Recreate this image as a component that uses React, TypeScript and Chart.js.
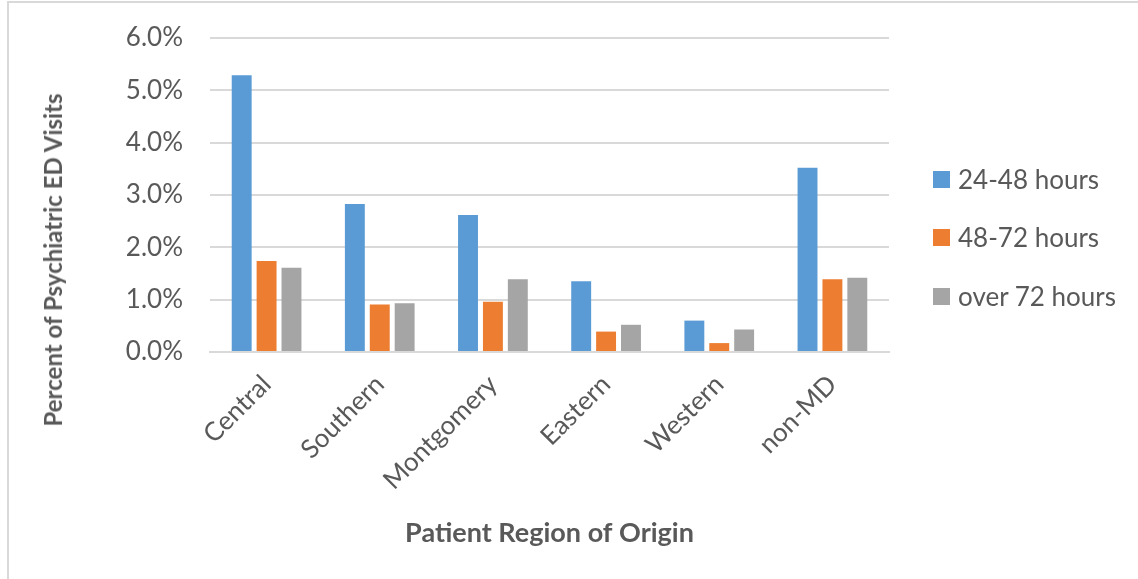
import React, { useEffect, useRef } from "react";
import { Chart, registerables } from "chart.js";

Chart.register(...registerables);

const categories = ["Central", "Southern", "Montgomery", "Eastern", "Western", "non-MD"];
const seriesNames = ["24-48 hours", "48-72 hours", "over 72 hours"];
const hours24to48 = [5.29, 2.83, 2.62, 1.35, 0.6, 3.52];
const hours48to72 = [1.74, 0.91, 0.96, 0.39, 0.17, 1.39];
const over72 = [1.61, 0.93, 1.39, 0.52, 0.43, 1.42];
const colors = ["#5b9bd5", "#ed7d31", "#a5a5a5"];
const yTitle = "Percent of Psychiatric ED Visits";
const xTitle = "Patient Region of Origin";

const FONT = "Lato, 'Open Sans', sans-serif";
const TEXT = "#595959";
const GRID = "#d9d9d9";

export default function App() {
  const ref = useRef<HTMLCanvasElement>(null);
  useEffect(() => {
    if (!ref.current) return;
    const data = [hours24to48, hours48to72, over72];
    const chart = new Chart(ref.current, {
      type: "bar",
      data: {
        labels: categories,
        datasets: seriesNames.map((n, i) => ({
          label: n,
          data: data[i],
          backgroundColor: colors[i],
          barPercentage: 0.8,
          categoryPercentage: 0.66,
        })),
      },
      options: {
        animation: false,
        responsive: false,
        maintainAspectRatio: false,
        layout: { padding: { left: 0, right: 249, top: 38, bottom: 0 } },
        plugins: { legend: { display: false }, tooltip: { enabled: false } },
        scales: {
          x: {
            grid: { display: false, drawTicks: false },
            border: { display: true, color: GRID, width: 2 },
            ticks: {
              color: TEXT,
              font: { family: FONT, size: 26 },
              minRotation: 45,
              maxRotation: 45,
              padding: 17,
            },
            title: {
              display: true,
              text: xTitle,
              color: TEXT,
              font: { family: FONT, size: 27, weight: "bold" },
              padding: { top: 0, bottom: 30 },
            },
            afterFit: (s: any) => {
              s.height = 579 - 352;
              s.paddingTop = 0;
              s.paddingBottom = 0;
              s.paddingLeft = 0;
              s.paddingRight = 0;
            },
          },
          y: {
            min: 0,
            max: 6,
            ticks: {
              stepSize: 1,
              color: TEXT,
              font: { family: FONT, size: 26 },
              padding: 27,
              callback: (v: any) => Number(v).toFixed(1) + "%",
            },
            grid: { color: GRID, lineWidth: 2, drawTicks: false },
            border: { display: false },
            title: { display: false },
            afterFit: (s: any) => {
              s.width = 210;
              s.paddingTop = 0;
              s.paddingBottom = 0;
            },
          },
        },
      },
    });
    return () => chart.destroy();
  }, []);

  const legendTops = [179, 237, 296];
  return (
    <div
      style={{
        position: "absolute",
        left: 0,
        top: 0,
        width: 1138,
        height: 579,
        background: "#fff",
        overflow: "hidden",
      }}
    >
      <div
        style={{
          position: "absolute",
          left: 7,
          top: 1,
          width: 1200,
          height: 700,
          border: "2px solid #d9d9d9",
          boxSizing: "border-box",
        }}
      />
      <canvas ref={ref} width={1138} height={579} style={{ position: "absolute", left: 0, top: 0 }} />
      <div
        style={{
          position: "absolute",
          left: 53,
          top: 260,
          transform: "translate(-50%, -50%) rotate(-90deg)",
          fontFamily: FONT,
          fontWeight: "bold",
          fontSize: 24,
          color: TEXT,
          whiteSpace: "nowrap",
          lineHeight: 1,
        }}
      >
        {yTitle}
      </div>
      {seriesNames.map((n, i) => (
        <div
          key={n}
          style={{
            position: "absolute",
            left: 933,
            top: legendTops[i] - 17,
            height: 34,
            display: "flex",
            alignItems: "center",
            fontFamily: FONT,
            fontSize: 26,
            color: TEXT,
            whiteSpace: "nowrap",
          }}
        >
          <span
            style={{
              display: "inline-block",
              width: 17,
              height: 17,
              background: colors[i],
              marginRight: 8,
            }}
          />
          {n}
        </div>
      ))}
    </div>
  );
}
